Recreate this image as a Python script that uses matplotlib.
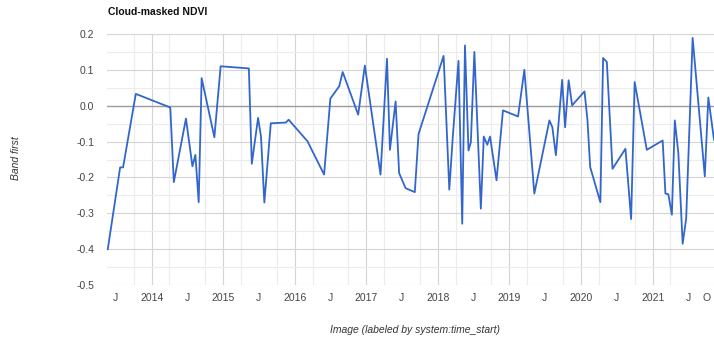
import matplotlib
matplotlib.use("Agg")
import matplotlib.pyplot as plt
import matplotlib.dates as mdates
from matplotlib.ticker import MultipleLocator, FixedLocator
import pandas as pd

# NDVI time series (cloud-masked)
dates = [
    "2013-05-22", "2013-07-24", "2013-08-08", "2013-10-12", "2014-04-06",
    "2014-04-24", "2014-06-25", "2014-07-28", "2014-08-12", "2014-08-29",
    "2014-09-13", "2014-11-17", "2014-12-19", "2015-05-12", "2015-05-27",
    "2015-06-28", "2015-07-13", "2015-07-30", "2015-09-01", "2015-11-17",
    "2015-12-01", "2016-03-06", "2016-05-30", "2016-07-01", "2016-08-15",
    "2016-09-02", "2016-11-20", "2016-12-24", "2017-03-14", "2017-04-16",
    "2017-05-01", "2017-05-30", "2017-06-17", "2017-07-20", "2017-09-05",
    "2017-09-24", "2018-01-30", "2018-02-28", "2018-03-18", "2018-04-16",
    "2018-05-05", "2018-05-19", "2018-06-06", "2018-06-18", "2018-07-06",
    "2018-08-08", "2018-08-23", "2018-09-10", "2018-09-24", "2018-10-27",
    "2018-11-29", "2019-02-14", "2019-03-18", "2019-05-08", "2019-07-24",
    "2019-08-08", "2019-08-26", "2019-09-27", "2019-10-12", "2019-10-30",
    "2019-11-17", "2020-01-19", "2020-02-03", "2020-02-17", "2020-04-09",
    "2020-04-23", "2020-05-12", "2020-06-10", "2020-08-15", "2020-09-13",
    "2020-10-01", "2020-12-02", "2021-02-21", "2021-03-07", "2021-03-22",
    "2021-04-09", "2021-04-24", "2021-05-12", "2021-06-03", "2021-06-21",
    "2021-07-24", "2021-09-24", "2021-10-12", "2021-11-10",
]
ndvi = [
    -0.400, -0.172, -0.172, 0.033, -0.005,
    -0.213, -0.036, -0.169, -0.137, -0.269,
    0.077, -0.088, 0.110, 0.104, -0.162,
    -0.034, -0.086, -0.270, -0.049, -0.047,
    -0.039, -0.099, -0.192, 0.020, 0.054,
    0.094, -0.025, 0.112, -0.192, 0.131,
    -0.123, 0.012, -0.188, -0.230, -0.241,
    -0.079, 0.139, -0.234, -0.086, 0.125,
    -0.329, 0.168, -0.125, -0.102, 0.150,
    -0.287, -0.086, -0.109, -0.086, -0.208,
    -0.013, -0.030, 0.100, -0.245, -0.041,
    -0.060, -0.138, 0.072, -0.060, 0.071,
    0.001, 0.040, -0.039, -0.171, -0.269,
    0.133, 0.122, -0.176, -0.120, -0.316,
    0.066, -0.123, -0.097, -0.245, -0.247,
    -0.304, -0.041, -0.132, -0.385, -0.315,
    0.189, -0.197, 0.023, -0.095,
]

tick_dates = [
    "2013-07-01", "2014-01-01", "2014-07-01", "2015-01-01", "2015-07-01",
    "2016-01-01", "2016-07-01", "2017-01-01", "2017-07-01", "2018-01-01",
    "2018-07-01", "2019-01-01", "2019-07-01", "2020-01-01", "2020-07-01",
    "2021-01-01", "2021-07-01", "2021-10-01",
]
tick_labels = [
    "J", "2014", "J", "2015", "J", "2016", "J", "2017", "J", "2018",
    "J", "2019", "J", "2020", "J", "2021", "J", "O",
]
y_ticks = [0.2, 0.1, 0.0, -0.1, -0.2, -0.3, -0.4, -0.5]

plt.rcParams["font.family"] = ["Liberation Sans", "DejaVu Sans"]

x = pd.to_datetime(dates)
xt = pd.to_datetime(tick_dates)

fig = plt.figure(figsize=(7.14, 3.40), dpi=100)
ax = fig.add_axes([107 / 714, 1 - 285 / 340, 1 - 107 / 714, 251 / 340])

ax.set_ylim(-0.5, 0.2)
ax.set_xlim(pd.Timestamp("2013-05-18"), pd.Timestamp("2021-11-10"))

# gridlines: quarterly and 0.05 minor, yearly and 0.1 major
ax.xaxis.set_minor_locator(mdates.MonthLocator(bymonth=[1, 4, 7, 10]))
ax.xaxis.set_major_locator(FixedLocator(mdates.date2num(xt)))
ax.set_xticklabels(tick_labels)
ax.yaxis.set_major_locator(FixedLocator(y_ticks))
ax.set_yticklabels([f"{v:.1f}" for v in y_ticks])
ax.yaxis.set_minor_locator(MultipleLocator(0.05))

ax.grid(which="minor", color="#ececec", linewidth=0.8)
ax.grid(which="major", axis="y", color="#d4d4d4", linewidth=0.8)
years = pd.to_datetime([f"{y}-01-01" for y in range(2014, 2022)])
for yr in years:
    ax.axvline(yr, color="#d4d4d4", linewidth=0.8, zorder=0.5)
ax.axhline(0.0, color="#9e9e9e", linewidth=1.0, zorder=1)
ax.set_axisbelow(True)

for s in ax.spines.values():
    s.set_visible(False)
ax.tick_params(which="both", length=0, labelsize=7.5, labelcolor="#444444")
ax.tick_params(axis="y", pad=9)
ax.tick_params(axis="x", pad=6)

ax.plot(x, ndvi, color="#3366cc", linewidth=1.3, zorder=3, clip_on=False)

fig.text(108 / 714, 1 - 12 / 340, "Cloud-masked NDVI", fontsize=7.5,
         fontweight="bold", color="#111111", va="center", ha="left")
fig.text(16 / 714, 1 - 158 / 340, "Band first", fontsize=7.5, style="italic",
         color="#333333", rotation=90, va="center", ha="center")
fig.text(415 / 714, 1 - 330 / 340, "Image (labeled by system:time_start)",
         fontsize=7.5, style="italic", color="#333333", va="center", ha="center")

fig.savefig("out.png", dpi=100)
